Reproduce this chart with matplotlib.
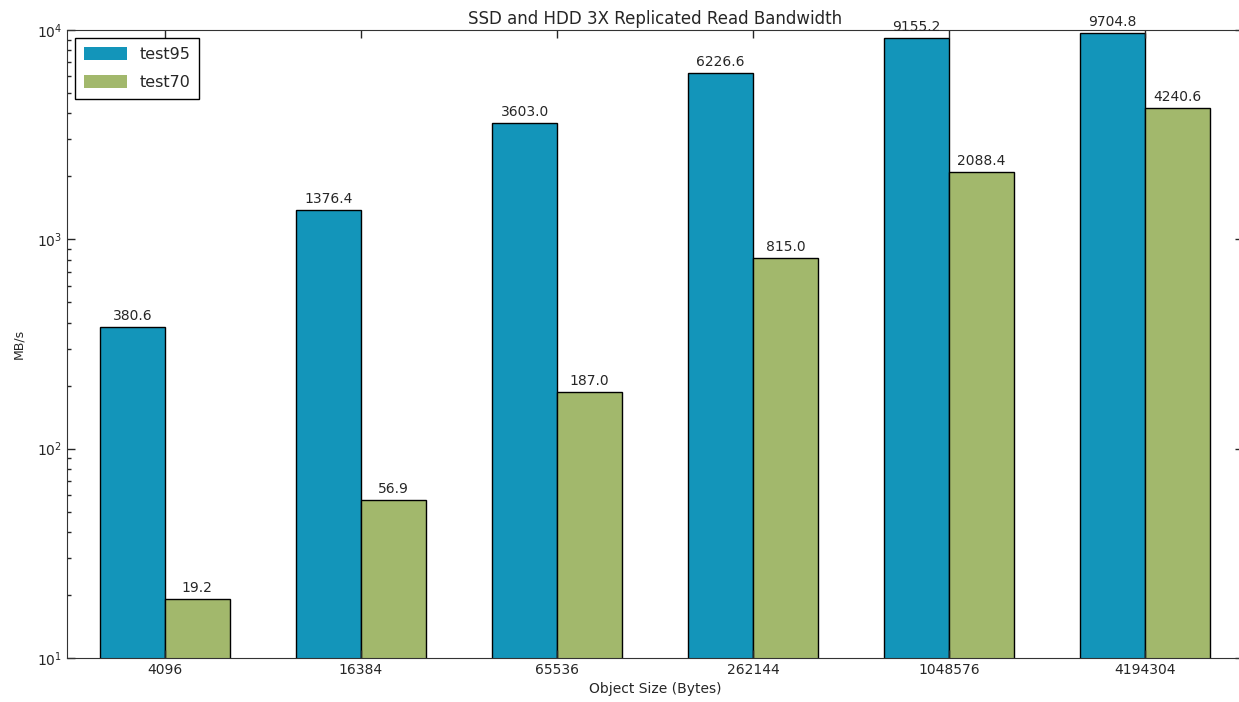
import matplotlib
matplotlib.use("Agg")
import matplotlib.pyplot as plt
from matplotlib.patches import Patch
from matplotlib.ticker import LogLocator
import numpy as np

object_sizes = ["4096", "16384", "65536", "262144", "1048576", "4194304"]
test95 = [380.6, 1376.4, 3603.0, 6226.6, 9155.2, 9704.8]
test70 = [19.2, 56.9, 187.0, 815.0, 2088.4, 4240.6]

blue = "#1395BA"
green = "#A2B86C"
text_color = "#262626"

plt.rcParams["font.family"] = "DejaVu Sans"

fig = plt.figure(figsize=(12.39, 7.02), dpi=100)
ax = fig.add_axes([67 / 1239, 44 / 702, 1176 / 1239, 628 / 702])

x = np.arange(len(object_sizes))
width = 0.33
b1 = ax.bar(x - width, test95, width, align="edge", color=blue,
            edgecolor="black", linewidth=1)
b2 = ax.bar(x, test70, width, align="edge", color=green,
            edgecolor="black", linewidth=1)

ax.set_yscale("log")
ax.set_ylim(10, 1e4)
ax.yaxis.set_minor_locator(LogLocator(base=10, subs=np.arange(2, 10)))
ax.set_xlim(-0.5, len(object_sizes) - 0.5)
ax.set_xticks(x)
ax.set_xticklabels(object_sizes)

for bars in (b1, b2):
    for rect in bars:
        h = rect.get_height()
        ax.annotate(f"{h:.1f}", (rect.get_x() + rect.get_width() / 2, h),
                    xytext=(0, 3), textcoords="offset points",
                    ha="center", va="bottom", fontsize=10, color=text_color)

ax.set_title("SSD and HDD 3X Replicated Read Bandwidth", fontsize=12,
             color=text_color, pad=4)
ax.set_xlabel("Object Size (Bytes)", fontsize=10, color=text_color, labelpad=4)
ax.set_ylabel("MB/s", fontsize=9, color=text_color, labelpad=8)

ax.tick_params(which="both", direction="in", top=True, right=True,
               colors=text_color, labelsize=10)
ax.tick_params(which="major", length=6, width=1)
ax.tick_params(which="minor", length=3, width=1)
for s in ax.spines.values():
    s.set_color("#333333")

handles = [Patch(facecolor=blue, edgecolor="none", label="test95"),
           Patch(facecolor=green, edgecolor="none", label="test70")]
leg = ax.legend(handles=handles, loc="upper left", fontsize=11.5,
                fancybox=False, edgecolor="black", framealpha=1,
                borderaxespad=0.5, borderpad=0.55, handlelength=2.7,
                handleheight=0.9, handletextpad=0.8, labelspacing=0.8)
leg.get_frame().set_linewidth(1)
for t in leg.get_texts():
    t.set_color(text_color)

fig.savefig("out.png", dpi=100, facecolor="white")
